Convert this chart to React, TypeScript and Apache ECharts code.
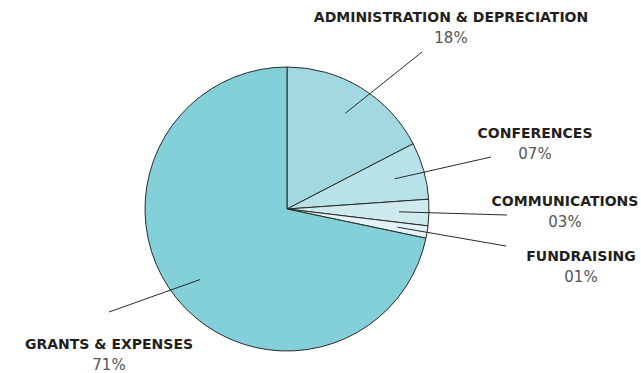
import React, { useEffect, useRef } from "react";
import * as echarts from "echarts";

const categories = [
  "ADMINISTRATION & DEPRECIATION",
  "CONFERENCES",
  "COMMUNICATIONS",
  "FUNDRAISING",
  "GRANTS & EXPENSES",
];
const shares = [17.4, 6.5, 3.0, 1.4, 71.7];
const percentLabels = ["18%", "07%", "03%", "01%", "71%"];
const sliceColors = ["#a2d9e0", "#b6e2e8", "#cdebef", "#e3f4f6", "#83d0d9"];
const labelAnchors = [
  [451, 27],
  [535, 143],
  [565, 211],
  [581, 266],
  [109, 354],
];
const lineEnds = [
  [422, 52],
  [491, 157],
  [507, 215],
  [506, 246],
  [109, 312],
];

export default function App() {
  const ref = useRef<HTMLDivElement>(null);
  useEffect(() => {
    if (!ref.current) return;
    const chart = echarts.init(ref.current, null, { renderer: "svg" });
    const data = categories.map((name, i) => ({
      name,
      value: shares[i],
      itemStyle: { color: sliceColors[i] },
    }));
    chart.setOption({
      animation: false,
      backgroundColor: "#ffffff",
      series: [
        {
          type: "pie",
          center: [287, 209],
          radius: 142,
          startAngle: 90,
          clockwise: true,
          silent: true,
          label: { show: false },
          labelLine: { show: false },
          itemStyle: { borderColor: "#2a2a2a", borderWidth: 1 },
          emphasis: { disabled: true },
          data,
        },
        {
          type: "pie",
          center: [287, 209],
          radius: 112,
          startAngle: 90,
          clockwise: true,
          silent: true,
          z: 5,
          emphasis: { disabled: true },
          itemStyle: { color: "rgba(0,0,0,0)", borderWidth: 0 },
          data: categories.map((name, i) => ({ name, value: shares[i] })),
          label: {
            show: true,
            position: "outside",
            align: "center",
            overflow: "none",
            alignTo: "none",
            bleedMargin: 0,
            formatter: (p: any) =>
              `{n|${categories[p.dataIndex]}}\n{p|${percentLabels[p.dataIndex]}}`,
            rich: {
              n: {
                fontFamily: "DejaVu Sans",
                fontWeight: "bold",
                fontSize: 14,
                color: "#231f20",
                lineHeight: 21,
                align: "center",
              },
              p: {
                fontFamily: "DejaVu Sans",
                fontSize: 15,
                color: "#555555",
                lineHeight: 21,
                align: "center",
              },
            },
          },
          labelLine: {
            show: true,
            lineStyle: { color: "#2a2a2a", width: 1 },
          },
          labelLayout: (params: any) => {
            const i = params.dataIndex;
            const pts = params.labelLinePoints;
            const start = pts && pts.length ? pts[0] : lineEnds[i];
            return {
              x: labelAnchors[i][0],
              y: labelAnchors[i][1],
              align: "center",
              verticalAlign: "middle",
              labelLinePoints: [start, lineEnds[i]],
            };
          },
        },
      ],
    });
    return () => chart.dispose();
  }, []);
  return (
    <div
      ref={ref}
      style={{ position: "absolute", left: 0, top: 0, width: 641, height: 373 }}
    />
  );
}
